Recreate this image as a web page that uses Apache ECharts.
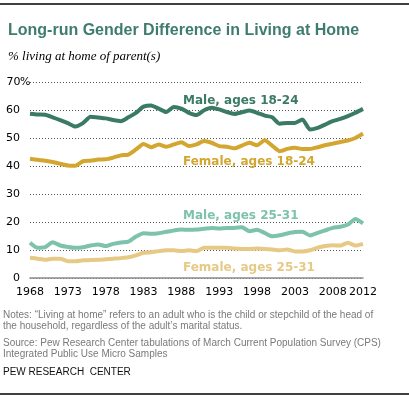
<!DOCTYPE html>
<html>
<head>
<meta charset="utf-8">
<script src="https://cdn.jsdelivr.net/npm/echarts@6/dist/echarts.min.js"></script>
<style>
  html, body { margin: 0; padding: 0; background: #fff; }
  #main { width: 409px; height: 398px; }
</style>
</head>
<body>
<div id="main"></div>
<script>
// years shown on the x axis
const years = [
  1968, 1969, 1970, 1971, 1972, 1973, 1974, 1975, 1976, 1977, 1978, 1979, 1980, 1981, 1982,
  1983, 1984, 1985, 1986, 1987, 1988, 1989, 1990, 1991, 1992, 1993, 1994, 1995, 1996, 1997,
  1998, 1999, 2000, 2001, 2002, 2003, 2004, 2005, 2006, 2007, 2008, 2009, 2010, 2011, 2012
];
const yearLabels = ["1968", "1973", "1978", "1983", "1988", "1993", "1998", "2003", "2008", "2012"];

// % living at home of parent(s)
const male1824 = [
  58.7, 58.4, 58.3, 57.4, 56.4, 55.3, 54.1, 55.3, 57.6, 57.3, 57.0, 56.4, 56.0, 57.4, 59.0,
  61.2, 61.6, 60.5, 59.3, 61.1, 60.5, 59.0, 58.2, 59.9, 60.8, 60.2, 59.3, 58.6, 59.2, 59.8,
  59.0, 58.0, 57.4, 55.1, 55.4, 55.4, 56.6, 53.0, 53.6, 54.8, 56.0, 56.8, 57.8, 59.0, 60.4
];
const female1824 = [
  42.6, 42.2, 41.9, 41.4, 40.8, 40.2, 40.1, 41.7, 41.9, 42.3, 42.4, 43.0, 43.8, 44.1, 45.9,
  47.9, 46.7, 47.7, 46.9, 47.7, 48.5, 47.1, 47.7, 48.9, 48.3, 47.1, 46.9, 46.3, 47.3, 48.3,
  47.4, 49.2, 47.3, 45.3, 46.1, 46.5, 46.1, 46.1, 46.7, 47.4, 48.0, 48.6, 49.1, 50.0, 51.6
];
const male2531 = [
  12.6, 10.8, 11.0, 12.8, 11.6, 11.1, 10.8, 11.0, 11.6, 12.0, 11.4, 12.2, 12.7, 13.0, 14.8,
  16.0, 15.8, 16.0, 16.5, 17.0, 17.3, 17.2, 17.3, 17.6, 17.9, 17.7, 17.9, 17.9, 18.1, 16.7,
  17.2, 16.1, 14.9, 15.3, 15.9, 16.4, 16.5, 15.2, 16.1, 17.0, 17.9, 18.3, 19.1, 21.1, 19.5
];
const female2531 = [
  7.2, 6.9, 6.5, 6.9, 6.9, 6.0, 6.0, 6.3, 6.4, 6.5, 6.7, 6.9, 7.1, 7.4, 8.1,
  9.0, 9.2, 9.6, 9.9, 9.9, 9.6, 9.9, 9.6, 10.8, 10.8, 10.8, 10.8, 10.5, 10.4, 10.4,
  10.5, 10.4, 10.2, 9.9, 10.2, 9.5, 9.5, 9.9, 10.8, 11.4, 11.7, 11.6, 12.6, 11.6, 12.2
];

const seriesNames = ["Male, ages 18-24", "Female, ages 18-24", "Male, ages 25-31", "Female, ages 25-31"];
const seriesColors = ["#3b7a66", "#d3a630", "#7cc2ac", "#e6c985"];

const chart = echarts.init(document.getElementById("main"));

function makeLine(name, data, color) {
  return {
    name: name,
    type: "line",
    data: data,
    showSymbol: false,
    symbol: "none",
    smooth: 0.2,
    lineStyle: { width: 4, color: color },
    z: 3
  };
}

// y is the vertical centre of the label
function seriesLabel(text, x, y, color) {
  return {
    type: "text",
    left: x,
    top: y - 7,
    z: 10,
    style: {
      text: text,
      fill: color,
      font: "bold 12px 'DejaVu Sans'"
    }
  };
}

const font = "'DejaVu Sans'";

chart.setOption({
  animation: false,
  backgroundColor: "#fff",
  title: [
    {
      text: "Long-run Gender Difference in Living at Home",
      left: 3,
      top: 18,
      textStyle: { fontFamily: "'Liberation Sans'", fontWeight: "bold", fontSize: 16, color: "#3f7c70" }
    },
    {
      text: "% living at home of parent(s)",
      left: 3,
      top: 45,
      textStyle: { fontFamily: "'Liberation Serif'", fontStyle: "italic", fontWeight: "normal", fontSize: 13, color: "#000" }
    }
  ],
  grid: { left: 30, top: 82, width: 333, height: 196, containLabel: false },
  xAxis: {
    type: "category",
    data: years.map(String),
    boundaryGap: false,
    axisLine: { lineStyle: { color: "#8c8c8c", width: 1.5 } },
    axisTick: { show: false },
    axisLabel: {
      color: "#000",
      fontFamily: font,
      fontSize: 11,
      margin: 9,
      interval: function (idx, val) { return yearLabels.indexOf(val) >= 0; }
    },
    splitLine: { show: false }
  },
  yAxis: {
    type: "value",
    min: 0,
    max: 70,
    interval: 10,
    axisLine: { show: false },
    axisTick: { show: false },
    splitLine: { lineStyle: { type: [1, 2], color: "#555", width: 1 } },
    axisLabel: {
      align: "left",
      margin: 23,
      color: "#000",
      fontFamily: font,
      fontSize: 11,
      formatter: function (v) { return v === 70 ? "{n|70}%" : "{n|" + v + "}"; },
      rich: { n: { width: 13, align: "right", fontFamily: font, fontSize: 11, color: "#000" } }
    }
  },
  series: [
    makeLine(seriesNames[0], male1824, seriesColors[0]),
    makeLine(seriesNames[1], female1824, seriesColors[1]),
    makeLine(seriesNames[2], male2531, seriesColors[2]),
    makeLine(seriesNames[3], female2531, seriesColors[3])
  ],
  graphic: [
    { type: "line", shape: { x1: 0, y1: 4, x2: 409, y2: 4 }, style: { stroke: "#000", lineWidth: 1.5 } },
    { type: "line", shape: { x1: 0, y1: 394, x2: 409, y2: 394 }, style: { stroke: "#000", lineWidth: 1.5 } },
    seriesLabel(seriesNames[0], 183, 102, seriesColors[0]),
    seriesLabel(seriesNames[1], 183, 163, seriesColors[1]),
    seriesLabel(seriesNames[2], 183, 217, seriesColors[2]),
    seriesLabel(seriesNames[3], 183, 269, seriesColors[3]),
    {
      type: "text", left: 3, top: 309,
      style: {
        text: "Notes: \u201cLiving at home\u201d refers to an adult who is the child or stepchild of the head of\nthe household, regardless of the adult\u2019s marital status.",
        fill: "#7a7a7a", font: "10px 'Liberation Sans'", lineHeight: 11.5
      }
    },
    {
      type: "text", left: 3, top: 337,
      style: {
        text: "Source: Pew Research Center tabulations of March Current Population Survey (CPS)\nIntegrated Public Use Micro Samples",
        fill: "#7a7a7a", font: "10px 'Liberation Sans'", lineHeight: 11.5
      }
    },
    {
      type: "text", left: 3, top: 367,
      style: { text: "PEW RESEARCH  CENTER", fill: "#111", font: "10px 'Liberation Sans'" }
    }
  ]
});
</script>
</body>
</html>
